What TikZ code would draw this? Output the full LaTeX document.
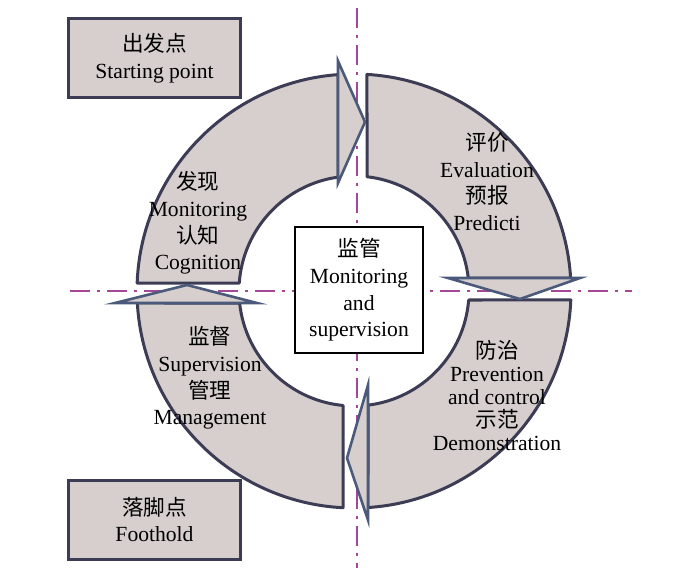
\documentclass[tikz,border=0pt]{standalone}
\usepackage{fontspec}
\setmainfont{Liberation Serif}
\newfontfamily\cjk{Noto Sans CJK SC}
\definecolor{ringfill}{RGB}{214,207,205}
\definecolor{ringline}{RGB}{60,60,85}
\definecolor{arrline}{RGB}{75,90,122}
\definecolor{axispurple}{RGB}{165,70,150}
\begin{document}
\begin{tikzpicture}[x=0.5pt,y=0.5pt,
  font=\fontsize{10.8}{13.3}\selectfont,
  sector/.style={fill=ringfill,draw=ringline,line width=1.5pt,line join=round},
  arrhead/.style={fill=ringfill,draw=arrline,line width=1.3pt,line join=miter},
  crossline/.style={draw=axispurple,line width=1.3pt,dash pattern=on 10pt off 3.5pt on 1.5pt off 3.5pt},
  endbox/.style={fill=ringfill,draw=ringline,line width=1.5pt,minimum width=85.5pt,minimum height=39.5pt,align=center},
  ringtext/.style={align=center,inner sep=0pt}]
\useasboundingbox (-354,-277) rectangle (346,291);

% dash-dot cross lines
\coordinate (vtop) at (3,283);
\coordinate (vbot) at (3,-277);
\coordinate (hleft) at (-284,0);
\coordinate (hright) at (278,0);
\draw[crossline] (vtop) -- (vbot);
\draw[crossline] (hleft) -- (hright);

% ring sectors (outer radius 217, inner radius 115)
\draw[sector] ({180-asin(8/217)}:217) arc[start angle={180-asin(8/217)}, end angle={acos(-16/217)}, radius=217]
  -- ({acos(-16/115)}:115) arc[start angle={acos(-16/115)}, end angle={180-asin(8/115)}, radius=115] -- cycle;
\draw[sector] ({acos(13/217)}:217) arc[start angle={acos(13/217)}, end angle={asin(13/217)}, radius=217]
  -- ({asin(13/115)}:115) arc[start angle={asin(13/115)}, end angle={acos(13/115)}, radius=115] -- cycle;
\draw[sector] ({-asin(9/217)}:217) arc[start angle={-asin(9/217)}, end angle={-acos(14/217)}, radius=217]
  -- ({-acos(14/115)}:115) arc[start angle={-acos(14/115)}, end angle={-asin(9/115)}, radius=115] -- cycle;
\draw[sector] ({-acos(-11/217)}:217) arc[start angle={-acos(-11/217)}, end angle={-180+asin(12/217)}, radius=217]
  -- ({-180+asin(12/115)}:115) arc[start angle={-180+asin(12/115)}, end angle={-acos(-11/115)}, radius=115] -- cycle;

% arrow heads between the sectors
\draw[arrhead] (-16,230) -- (11,169) -- (-16,108) -- cycle;
\draw[arrhead] (94,13) -- (166,-8) -- (226,13) -- cycle;
\draw[arrhead] (14,-94) -- (-7,-167) -- (14,-229) -- cycle;
\draw[arrhead] (-239,-12) -- (-167,6) -- (-97,-12) -- cycle;

% boxes
\node[endbox] (start) at (-199.5,232.5) {{\cjk 出发点}\\Starting point};
\node[endbox] (foothold) at (-199.5,-228.5) {{\cjk 落脚点}\\Foothold};
\node[fill=white,draw=black,line width=1pt,minimum width=64pt,minimum height=63pt,align=center] (core) at (5,1)
  {{\cjk 监管}\\Monitoring\\and\\supervision};

% sector texts
\node[ringtext] (discover) at (-156,68) {{\cjk 发现}\\Monitoring\\{\cjk 认知}\\Cognition};
\node[ringtext] (evaluate) at (133,109.5) {{\cjk 评价}\\Evaluation\\{\cjk 预报}\\Predicti};
\node[ringtext] (supervise) at (-144,-87) {{\cjk 监督}\\Supervision\\{\cjk 管理}\\Management};
\node[ringtext,font=\fontsize{10.8}{11.5}\selectfont] (prevent) at (143,-105)
  {{\cjk 防治}\\Prevention\\and control\\{\cjk 示范}\\Demonstration};
\end{tikzpicture}
\end{document}
